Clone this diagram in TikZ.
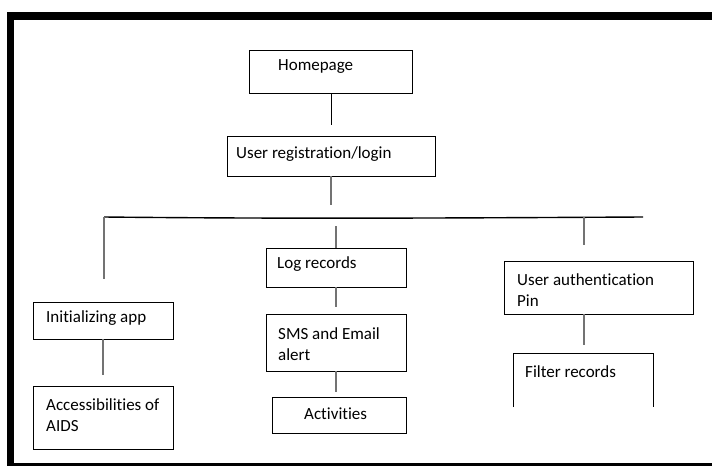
\documentclass[tikz,border=0pt]{standalone}
\usepackage{fontspec}
\setmainfont{Carlito}[RawFeature={-liga}]
\begin{document}
\begin{tikzpicture}[x=1pt,y=-1pt,
  box/.style={draw=black, line width=1pt, inner sep=0pt, outer sep=0pt},
  lbl/.style={anchor=west, inner sep=0pt, align=left, font=\fontsize{17}{21.5}\selectfont},
  conn/.style={draw=black!55, line width=1.1pt},
  dark/.style={draw=black, line width=1pt}]
\useasboundingbox (0,0) rectangle (712,466);
% frame
\fill[black] (7,12) rectangle (712,20);
\fill[black] (7,12) rectangle (14,466);
\fill[black] (7,463) rectangle (712,466);
% boxes
\newcommand\mkbox[5]{\node[box, minimum width=#4-#2, minimum height=#5-#3] (#1) at ({(#2+#4)/2},{(#3+#5)/2}) {};}
\mkbox{home}{249}{50}{412}{93}
\mkbox{reg}{227}{136}{435}{176}
\mkbox{init}{33}{302}{173}{339}
\mkbox{acc}{33}{386}{173}{449}
\mkbox{log}{266}{248}{406}{287}
\mkbox{sms}{266}{314}{406}{371}
\mkbox{act}{272}{397}{406}{433}
\mkbox{auth}{504}{261}{693}{314}
\node[inner sep=0pt, outer sep=0pt, minimum width=140, minimum height=54] (filt) at (583,380) {};
\draw[line width=1pt] (filt.south west) -- (filt.north west) -- (filt.north east) -- (filt.south east);
% texts
\node[lbl] (thome) at (278,67) {Homepage};
\node[lbl] (treg) at (236,154) {User registration/login};
\node[lbl] (tlog) at (277,264) {Log records};
\node[lbl] (tinit) at (46,318) {Initializing app};
\node[lbl] (tacc) at (46,415) {Accessibilities of\\AIDS};
\node[lbl] (tsms) at (278,344) {SMS and Email\\alert};
\node[lbl] (tact) at (304,414) {Activities};
\node[lbl] (tauth) at (517,290) {User authentication\\Pin};
\node[lbl] (tfilt) at (525,372) {Filter records};
% connector ends
\coordinate (c1) at (331,125);
\coordinate (c2) at (331,205);
\coordinate (busL) at (104,217);
\coordinate (busR) at (643,217);
\coordinate (busM) at (336,226);
\coordinate (busA) at (584,217);
\coordinate (dropL) at (104,279);
\coordinate (initD) at (103,375);
\coordinate (logD) at (336,307);
\coordinate (smsD) at (336,392);
\coordinate (authU) at (584,245);
\coordinate (authD) at (584,345);
% connectors
\draw[dark] (home.south -| c1) -- (c1);
\draw[conn] (reg.south -| c2) -- (c2);
\draw[black, line width=1.4pt] (busL) .. controls (300,219) and (450,218) .. (busR);
\draw[conn] (busL) -- (dropL);
\draw[conn] (init.south) -- (initD);
\draw[conn] (busM) -- (log.north -| busM);
\draw[conn] (log.south -| logD) -- (logD);
\draw[conn] (sms.south -| smsD) -- (smsD);
\draw[conn] (busA) -- (authU);
\draw[conn] (auth.south -| authD) -- (authD);
\end{tikzpicture}
\end{document}
